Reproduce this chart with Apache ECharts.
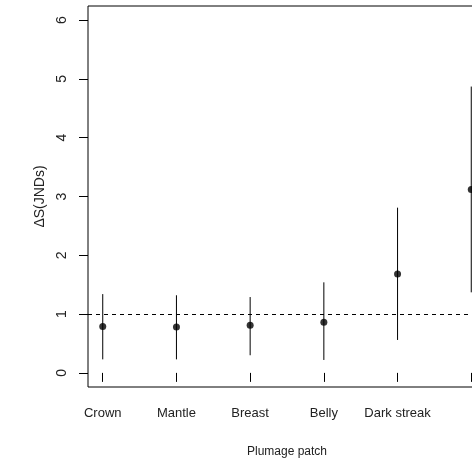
<!DOCTYPE html>
<html>
<head>
<meta charset="utf-8">
<script src="https://cdn.jsdelivr.net/npm/echarts@6/dist/echarts.min.js"></script>
<style>
  html, body { margin: 0; padding: 0; background: #fff; }
  #chart { width: 472px; height: 466px; }
</style>
</head>
<body>
<div id="chart"></div>
<script>
// Plumage patches (the last label is not shown)
const patches = ['Crown', 'Mantle', 'Breast', 'Belly', 'Dark streak', ''];
// Mean chromatic contrast (JNDs) and interval bounds per patch
const meanDS = [0.79, 0.78, 0.81, 0.86, 1.68, 3.12];
const lowerDS = [0.23, 0.23, 0.30, 0.22, 0.56, 1.37];
const upperDS = [1.34, 1.32, 1.29, 1.54, 2.81, 4.87];
const yTicks = [0, 1, 2, 3, 4, 5, 6];
const threshold = 1;

const xIdx = patches.map((_, i) => i + 1);
const FONT = 'Liberation Sans, Arial, sans-serif';
const TEXT = '#222';

const chart = echarts.init(document.getElementById('chart'), null, { renderer: 'canvas' });

chart.setOption({
  animation: false,
  backgroundColor: '#fff',
  // plot box runs past the right edge of the canvas
  grid: {
    left: 88, top: 6, width: 398, height: 381,
    outerBoundsMode: 'none',
    containLabel: false,
    show: true, borderColor: '#000', borderWidth: 1, backgroundColor: 'transparent'
  },
  xAxis: {
    type: 'value',
    min: 0.8, max: 6.2,
    splitLine: { show: false },
    axisLine: { show: false },
    axisTick: { show: true, length: 9, customValues: xIdx, lineStyle: { color: '#000' } },
    axisLabel: {
      customValues: xIdx,
      margin: 20,
      color: TEXT, fontFamily: FONT, fontSize: 13,
      formatter: v => patches[Math.round(v) - 1] || ''
    },
    name: 'Plumage patch',
    nameLocation: 'middle',
    nameGap: 59,
    nameTextStyle: { color: TEXT, fontFamily: FONT, fontSize: 12 }
  },
  yAxis: {
    type: 'value',
    min: -0.24, max: 6.24,
    splitLine: { show: false },
    axisLine: { show: false },
    axisTick: { show: true, length: 9, customValues: yTicks, lineStyle: { color: '#000' } },
    axisLabel: {
      customValues: yTicks,
      rotate: 90,
      margin: 19,
      color: TEXT, fontFamily: FONT, fontSize: 14
    },
    name: 'ΔS(JNDs)',
    nameLocation: 'middle',
    nameRotate: 90,
    nameGap: 31,
    nameTextStyle: { color: TEXT, fontFamily: FONT, fontSize: 14 }
  },
  series: [
    {
      type: 'custom',
      name: 'interval',
      data: xIdx.map((x, i) => [x, lowerDS[i], upperDS[i]]),
      renderItem: (params, api) => {
        const p0 = api.coord([api.value(0), api.value(1)]);
        const p1 = api.coord([api.value(0), api.value(2)]);
        return {
          type: 'line',
          shape: { x1: p0[0], y1: p0[1], x2: p1[0], y2: p1[1] },
          style: { stroke: '#000', lineWidth: 1 }
        };
      },
      z: 2
    },
    {
      type: 'scatter',
      name: 'mean',
      data: xIdx.map((x, i) => [x, meanDS[i]]),
      symbol: 'circle',
      symbolSize: 7,
      itemStyle: { color: '#000' },
      z: 3,
      markLine: {
        silent: true,
        symbol: ['none', 'none'],
        label: { show: false },
        lineStyle: { color: '#000', width: 1, type: [4, 4] },
        data: [{ yAxis: threshold }]
      }
    }
  ]
});
</script>
</body>
</html>
